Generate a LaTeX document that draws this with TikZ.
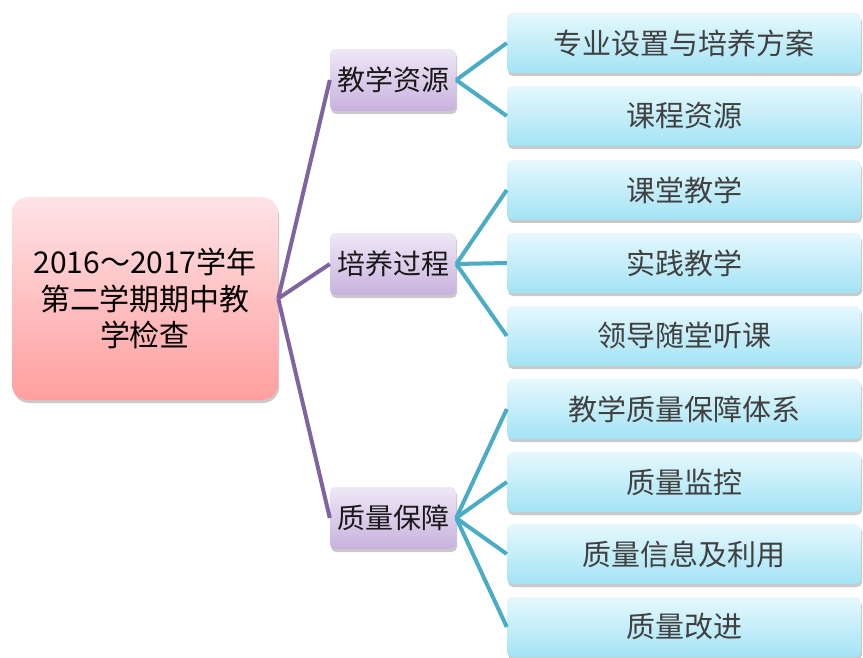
\documentclass[tikz,border=0pt]{standalone}
\usepackage{fontspec}
\setmainfont{Noto Sans CJK SC}
\usetikzlibrary{shadows}
\definecolor{pinkT}{HTML}{FFE3E6}
\definecolor{pinkB}{HTML}{FF9F9F}
\definecolor{purT}{HTML}{EEE8F6}
\definecolor{purB}{HTML}{C8B2DE}
\definecolor{cyT}{HTML}{E6F8FD}
\definecolor{cyB}{HTML}{A3E3F5}
\definecolor{purLine}{HTML}{8064A2}
\definecolor{tealLine}{HTML}{4BACC6}
\tikzset{
  boxshadow/.style={drop shadow={shadow xshift=1pt,shadow yshift=-3pt,opacity=0.35,fill=black!60}},
  rootbox/.style={boxshadow,rounded corners=16pt,top color=pinkT,bottom color=pinkB,draw=none,
    minimum width=266pt,minimum height=203pt,text width=250pt,align=center,
    font=\fontsize{30}{36.5}\selectfont,inner sep=0pt},
  midbox/.style={boxshadow,rounded corners=5pt,top color=purT,bottom color=purB,draw=none,
    minimum width=126pt,minimum height=62pt,font=\fontsize{28}{32}\selectfont,text=black!90,inner sep=0pt},
  leafbox/.style={boxshadow,rounded corners=5pt,top color=cyT,bottom color=cyB,draw=none,
    minimum width=354pt,minimum height=60pt,font=\fontsize{29}{32}\selectfont,text=black!75,inner sep=0pt},
  purlink/.style={draw=purLine,line width=4pt},
  teallink/.style={draw=tealLine,line width=4pt},
}
\begin{document}
\begin{tikzpicture}[x=1pt,y=-1pt]
\useasboundingbox (0,0) rectangle (863,658);
\node[rootbox] (root) at (145,298.5) {2016～2017学年\\第二学期期中教\\学检查};
\node[midbox] (m1) at (393,80) {教学资源};
\node[midbox] (m2) at (393,264) {培养过程};
\node[midbox] (m3) at (393,518) {质量保障};
\node[leafbox] (l1) at (684,43) {专业设置与培养方案};
\node[leafbox] (l2) at (684,116) {课程资源};
\node[leafbox] (l3) at (684,190) {课堂教学};
\node[leafbox] (l4) at (684,263) {实践教学};
\node[leafbox] (l5) at (684,336) {领导随堂听课};
\node[leafbox] (l6) at (684,409) {教学质量保障体系};
\node[leafbox] (l7) at (684,482) {质量监控};
\node[leafbox] (l8) at (684,554) {质量信息及利用};
\node[leafbox] (l9) at (684,627) {质量改进};
\foreach \m in {m1,m2,m3}{\draw[purlink] (root.east) -- (\m.west);}
\foreach \l in {l1,l2}{\draw[teallink] (m1.east) -- (\l.west);}
\foreach \l in {l3,l4,l5}{\draw[teallink] (m2.east) -- (\l.west);}
\foreach \l in {l6,l7,l8,l9}{\draw[teallink] (m3.east) -- (\l.west);}
\end{tikzpicture}
\end{document}
